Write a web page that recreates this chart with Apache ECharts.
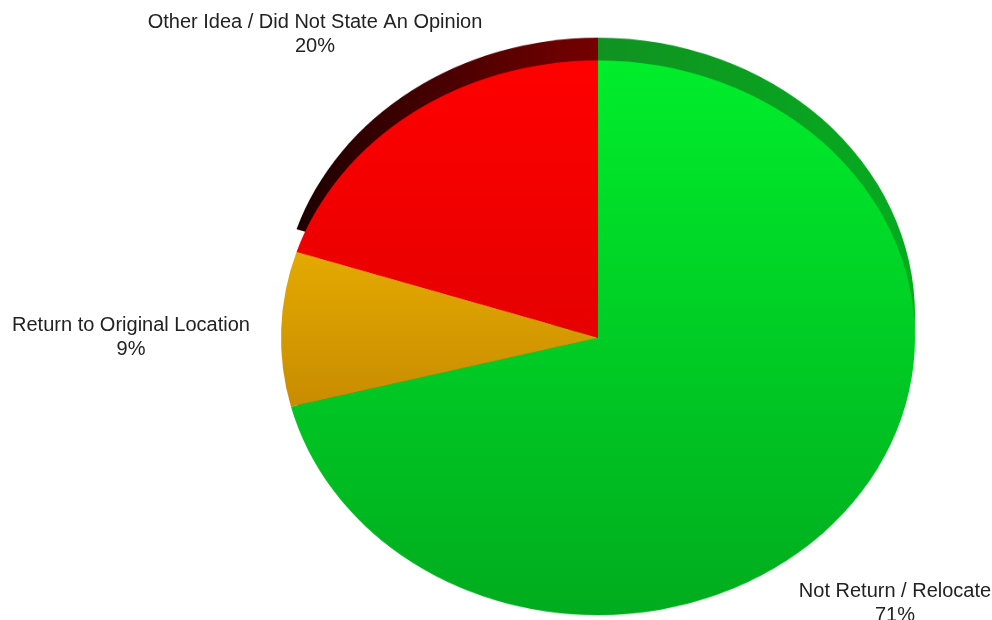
<!DOCTYPE html>
<html>
<head>
<meta charset="utf-8">
<script src="https://cdn.jsdelivr.net/npm/echarts@6/dist/echarts.min.js"></script>
<style>
html,body{margin:0;padding:0;background:#fff;overflow:hidden}
#wrap{position:relative;width:992px;height:620px;overflow:hidden;background:#fff}
#pie{position:absolute;left:0;top:0;width:992px;height:709px;transform:scaleY(0.875);transform-origin:0 0}
#lab{position:absolute;left:0;top:0;width:992px;height:620px}
</style>
</head>
<body>
<div id="wrap"><div id="pie"></div><div id="lab"></div></div>
<script>
const categories = ['Not Return / Relocate', 'Return to Original Location', 'Other Idea / Did Not State An Opinion'];
const values = [71, 9, 20];

const G = echarts.graphic.LinearGradient;
const frontColors = [
  new G(0, 0, 0, 1, [{offset: 0, color: '#00ee2c'}, {offset: 1, color: '#00ac1e'}]),
  new G(0, 0, 0, 1, [{offset: 0, color: '#e4aa00'}, {offset: 1, color: '#c88c00'}]),
  new G(0, 0, 0, 1, [{offset: 0, color: '#ff0000'}, {offset: 1, color: '#e60000'}])
];
const backColors = [
  new G(0, 0, 1, 0, [{offset: 0, color: '#1a7a22'}, {offset: 1, color: '#06ac20'}]),
  'rgba(0,0,0,0)',
  new G(0, 0, 1, 0, [{offset: 0, color: '#1e0000'}, {offset: 1, color: '#760000'}])
];
const labelPos = [[895, 603], [131, 337], [315, 34]];

const pieChart = echarts.init(document.getElementById('pie'), null, {renderer: 'canvas'});
pieChart.setOption({
  animation: false,
  series: [
    {
      type: 'pie', center: [598, 360], radius: 317, startAngle: 90, clockwise: true, silent: true,
      label: {show: false}, labelLine: {show: false},
      data: categories.map((n, i) => ({name: n, value: values[i], itemStyle: {color: backColors[i]}}))
    },
    {
      type: 'pie', center: [598, 386], radius: 317, startAngle: 90, clockwise: true, silent: true,
      label: {show: false}, labelLine: {show: false},
      data: categories.map((n, i) => ({name: n, value: values[i], itemStyle: {color: frontColors[i]}}))
    }
  ]
});

const labChart = echarts.init(document.getElementById('lab'), null, {renderer: 'canvas'});
labChart.setOption({
  animation: false,
  series: [{
    type: 'pie', center: [600, 338], radius: 100, startAngle: 90, clockwise: true, silent: true,
    itemStyle: {color: 'rgba(0,0,0,0)'},
    label: {
      show: true, position: 'inside', formatter: '{b}\n{d}%',
      fontFamily: '"Liberation Sans", Arial, Helvetica, sans-serif',
      fontSize: 20, lineHeight: 24, color: '#222222', align: 'center', overflow: 'none'
    },
    labelLine: {show: false},
    labelLayout: function (p) {
      const pos = labelPos[p.dataIndex];
      return {x: pos[0], y: pos[1], align: 'center', verticalAlign: 'middle', hideOverlap: false};
    },
    data: categories.map((n, i) => ({name: n, value: values[i]}))
  }]
});
</script>
</body>
</html>
